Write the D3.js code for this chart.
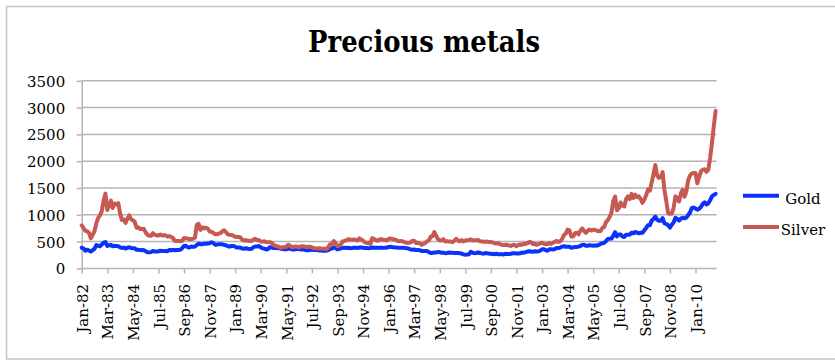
<!DOCTYPE html>
<html>
<head>
<meta charset="utf-8">
<script src="https://cdn.jsdelivr.net/npm/d3@7"></script>
<style>
  html, body { margin: 0; padding: 0; background: #fff; }
  svg { display: block; }
  text { font-family: "DejaVu Serif", "Liberation Serif", serif; fill: #000; }
</style>
</head>
<body>
<svg id="chart" width="835" height="362"></svg>
<script>
// Monthly average prices, Jan 1982 – Dec 2010
// Gold in USD/oz; silver in US cents/oz (USD x 100)
const firstMonth = new Date(1982, 0, 1);
const lastMonth = new Date(2010, 11, 1);

const gold = [
  384, 374, 330, 350, 334, 315, 339, 364, 436, 422, 414, 444,   // 1982
  481, 491, 420, 432, 438, 413, 422, 416, 412, 394, 382, 388,   // 1983
  370, 386, 394, 381, 378, 378, 348, 348, 341, 340, 341, 320,   // 1984
  303, 299, 304, 325, 316, 317, 317, 330, 323, 326, 325, 322,   // 1985
  345, 339, 346, 340, 342, 343, 348, 376, 418, 423, 396, 391,   // 1986
  408, 401, 409, 438, 460, 450, 450, 461, 460, 465, 468, 487,   // 1987
  477, 442, 443, 452, 451, 451, 437, 431, 413, 406, 420, 419,   // 1988
  404, 388, 390, 384, 371, 367, 375, 366, 362, 367, 394, 409,   // 1989
  410, 417, 393, 374, 369, 352, 362, 395, 389, 381, 381, 378,   // 1990
  383, 364, 363, 358, 357, 367, 368, 356, 349, 359, 360, 361,   // 1991
  354, 354, 345, 338, 337, 341, 352, 343, 345, 344, 335, 334,   // 1992
  329, 330, 330, 342, 367, 372, 392, 379, 355, 364, 373, 383,   // 1993
  387, 382, 384, 378, 381, 385, 385, 380, 391, 389, 384, 379,   // 1994
  379, 377, 382, 391, 385, 387, 386, 383, 383, 383, 386, 387,   // 1995
  400, 405, 396, 393, 392, 385, 383, 387, 383, 381, 378, 369,   // 1996
  355, 347, 352, 344, 344, 341, 324, 324, 323, 325, 306, 289,   // 1997
  289, 297, 296, 308, 300, 292, 293, 284, 289, 296, 294, 291,   // 1998
  287, 288, 286, 282, 277, 262, 256, 257, 265, 311, 293, 284,   // 1999
  285, 300, 286, 280, 275, 286, 282, 275, 274, 270, 266, 272,   // 2000
  265, 262, 263, 260, 272, 270, 268, 273, 283, 283, 276, 276,   // 2001
  282, 296, 294, 302, 314, 321, 314, 310, 319, 317, 319, 333,   // 2002
  357, 359, 340, 329, 355, 356, 351, 360, 379, 379, 389, 407,   // 2003
  414, 405, 406, 404, 384, 392, 398, 400, 406, 420, 439, 442,   // 2004
  424, 423, 434, 429, 422, 430, 424, 438, 456, 470, 476, 510,   // 2005
  549, 555, 557, 610, 676, 596, 633, 632, 598, 586, 628, 629,   // 2006
  631, 665, 655, 679, 667, 655, 665, 665, 712, 754, 806, 803,   // 2007
  889, 922, 968, 909, 888, 889, 939, 839, 829, 806, 760, 816,   // 2008
  858, 943, 924, 890, 928, 945, 934, 949, 996, 1043, 1127, 1134, // 2009
  1118, 1095, 1113, 1148, 1205, 1233, 1193, 1215, 1271, 1343, 1370, 1391 // 2010
];

const silver = [
  804, 754, 701, 693, 661, 560, 625, 693, 838, 943, 990, 1068,      // 1982
  1268, 1395, 1091, 1178, 1264, 1127, 1208, 1192, 1217, 1027, 905, 914, // 1983
  849, 926, 990, 919, 898, 873, 758, 767, 735, 734, 738, 671,       // 1984
  627, 607, 609, 657, 625, 615, 616, 630, 612, 621, 615, 591,       // 1985
  603, 587, 566, 514, 511, 510, 507, 516, 565, 563, 558, 543,       // 1986
  548, 552, 574, 811, 833, 718, 768, 745, 759, 744, 688, 683,       // 1987
  664, 637, 637, 648, 658, 693, 712, 675, 635, 627, 623, 612,       // 1988
  590, 587, 586, 573, 531, 521, 526, 516, 516, 510, 538, 553,       // 1989
  524, 529, 503, 499, 506, 490, 486, 489, 475, 438, 422, 414,       // 1990
  407, 374, 395, 397, 403, 440, 424, 393, 404, 410, 406, 389,       // 1991
  412, 412, 410, 400, 404, 404, 394, 377, 374, 372, 374, 371,       // 1992
  368, 365, 360, 398, 452, 450, 511, 468, 417, 431, 453, 508,       // 1993
  514, 529, 545, 533, 536, 542, 533, 520, 562, 537, 519, 486,       // 1994
  476, 479, 456, 562, 552, 528, 516, 538, 544, 534, 530, 519,       // 1995
  550, 559, 551, 538, 533, 511, 506, 513, 500, 487, 477, 476,       // 1996
  483, 516, 514, 473, 478, 472, 440, 455, 475, 505, 520, 590,       // 1997
  600, 680, 610, 550, 520, 525, 545, 500, 510, 500, 500, 490,       // 1998
  516, 552, 520, 506, 527, 504, 521, 526, 525, 543, 519, 526,       // 1999
  523, 529, 507, 504, 499, 498, 500, 491, 492, 484, 469, 463,       // 2000
  469, 453, 439, 437, 440, 437, 425, 420, 436, 435, 413, 439,       // 2001
  445, 443, 460, 456, 470, 492, 489, 456, 457, 441, 452, 467,       // 2002
  480, 460, 452, 452, 474, 455, 480, 498, 514, 493, 506, 549,       // 2003
  626, 648, 726, 710, 595, 594, 653, 667, 636, 707, 745, 698,       // 2004
  664, 703, 727, 709, 719, 720, 703, 693, 696, 755, 772, 863,       // 2005
  901, 961, 1038, 1261, 1338, 1085, 1119, 1230, 1169, 1156, 1294, 1345, // 2006
  1294, 1392, 1313, 1376, 1329, 1343, 1294, 1224, 1287, 1368, 1469, 1452, // 2007
  1598, 1758, 1930, 1728, 1689, 1716, 1796, 1463, 1257, 1034, 1018, 1024, // 2008
  1126, 1345, 1308, 1249, 1403, 1466, 1339, 1434, 1646, 1733, 1773, 1778, // 2009
  1779, 1588, 1710, 1812, 1843, 1848, 1799, 1840, 2065, 2337, 2647, 2938  // 2010
];

const seriesNames = ["Gold", "Silver"];
const seriesColors = ["#0a32f8", "#c65a52"];

const xTickLabels = [
  "Jan-82", "Mar-83", "May-84", "Jul-85", "Sep-86", "Nov-87", "Jan-89",
  "Mar-90", "May-91", "Jul-92", "Sep-93", "Nov-94", "Jan-96", "Mar-97",
  "May-98", "Jul-99", "Sep-00", "Nov-01", "Jan-03", "Mar-04", "May-05",
  "Jul-06", "Sep-07", "Nov-08", "Jan-10"
];
const yTickValues = [0, 500, 1000, 1500, 2000, 2500, 3000, 3500];
const chartTitle = "Precious metals";

// Category axis: one label per month
const fmt = d3.timeFormat("%b-%y");
const months = d3.timeMonth.range(firstMonth, d3.timeMonth.offset(lastMonth, 1)).map(fmt);

const svg = d3.select("#chart");

// Layout
const plotLeft = 81.7, plotRight = 716.7, plotTop = 80.8, plotBottom = 268.4;
const gridColor = "#b4b4b4";
const labelFont = "15px 'DejaVu Serif'";

// Chart border
svg.append("rect")
  .attr("x", 6.5).attr("y", 6.5)
  .attr("width", 840).attr("height", 352.5)
  .attr("fill", "none")
  .attr("stroke", "#c4c4c4")
  .attr("stroke-width", 1.5);

const x = d3.scalePoint().domain(months).range([plotLeft, 715.6]);
const y = d3.scaleLinear().domain([0, 3500]).range([plotBottom, plotTop]);

// Horizontal gridlines
svg.append("g")
  .selectAll("line")
  .data(yTickValues.filter(v => v > 0))
  .join("line")
  .attr("x1", plotLeft).attr("x2", plotRight)
  .attr("y1", d => y(d)).attr("y2", d => y(d))
  .attr("stroke", gridColor)
  .attr("stroke-width", 1.5);

// Y axis
const yAxis = svg.append("g")
  .attr("transform", `translate(${plotLeft},0)`)
  .call(d3.axisLeft(y)
    .tickValues(yTickValues)
    .tickFormat(d3.format("d"))
    .tickSize(5).tickSizeOuter(0).tickPadding(11.5));
yAxis.attr("font-size", null).attr("font-family", null);
yAxis.select(".domain").attr("stroke", gridColor).attr("stroke-width", 1.5);
yAxis.selectAll(".tick line").attr("stroke", gridColor).attr("stroke-width", 1.5);
yAxis.selectAll(".tick text")
  .style("font", labelFont)
  .attr("fill", "#000")
  .attr("dy", "0.36em");

// X axis
const xAxis = svg.append("g")
  .attr("transform", `translate(0,${plotBottom})`)
  .call(d3.axisBottom(x).tickValues(xTickLabels).tickSize(5).tickSizeOuter(0));
xAxis.attr("font-size", null).attr("font-family", null);
xAxis.select(".domain")
  .attr("d", `M${plotLeft},0H${plotRight}`)
  .attr("stroke", gridColor).attr("stroke-width", 1.5);
xAxis.selectAll(".tick line").attr("stroke", gridColor).attr("stroke-width", 1.5);
xAxis.selectAll(".tick text")
  .style("font", labelFont)
  .attr("fill", "#000")
  .attr("transform", "rotate(-90)")
  .attr("text-anchor", "end")
  .attr("x", -15.5)
  .attr("y", 0)
  .attr("dy", "0.38em");

// Series lines
const line = d3.line()
  .x((d, i) => x(months[i]))
  .y(d => y(d));

[gold, silver].forEach((values, k) => {
  svg.append("path")
    .datum(values)
    .attr("fill", "none")
    .attr("stroke", seriesColors[k])
    .attr("stroke-width", 4)
    .attr("stroke-linejoin", "round")
    .attr("stroke-linecap", "round")
    .attr("d", line);
});

// Legend
const legend = svg.append("g");
const legendY = [195.7, 227];
seriesNames.forEach((name, k) => {
  legend.append("line")
    .attr("x1", 743).attr("x2", 779)
    .attr("y1", legendY[k]).attr("y2", legendY[k])
    .attr("stroke", seriesColors[k])
    .attr("stroke-width", 4);
  legend.append("text")
    .attr("x", 803).attr("y", legendY[k] + 7.8)
    .attr("text-anchor", "middle")
    .style("font", labelFont)
    .text(name);
});

// Title
svg.append("text")
  .attr("x", 424).attr("y", 52.3)
  .attr("text-anchor", "middle")
  .style("font", "bold 29px 'DejaVu Serif Condensed', 'DejaVu Serif'")
  .attr("textLength", 232)
  .attr("lengthAdjust", "spacingAndGlyphs")
  .text(chartTitle);
</script>
</body>
</html>
